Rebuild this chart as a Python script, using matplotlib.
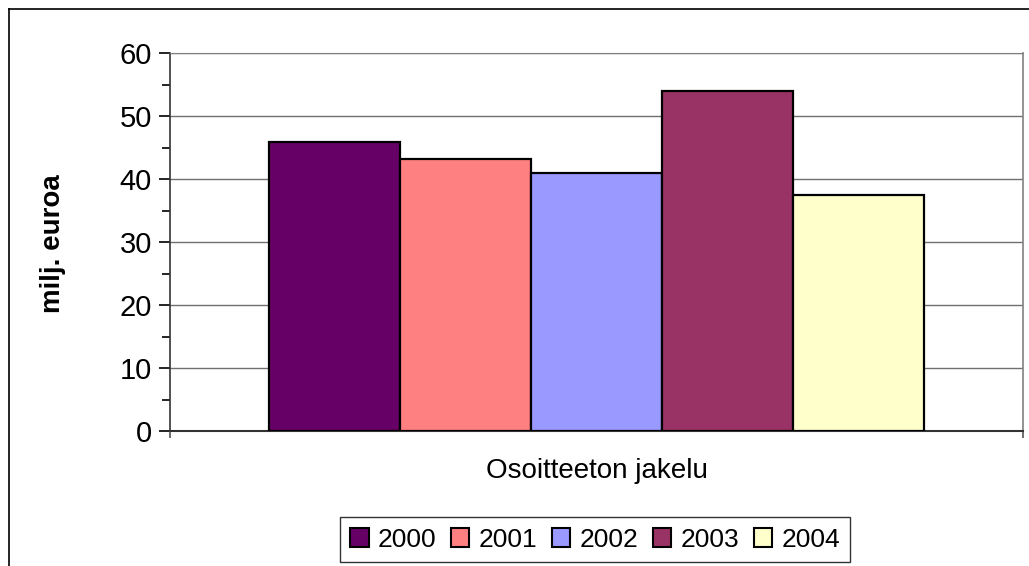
import numpy as np
import matplotlib.pyplot as plt
from matplotlib.lines import Line2D
from matplotlib.ticker import MultipleLocator

plt.rcParams['font.family'] = ['Liberation Sans', 'DejaVu Sans']

# data
years = ['2000', '2001', '2002', '2003', '2004']
values = [45.8, 43.1, 40.9, 54.0, 37.4]
colors = ['#660066', '#ff8080', '#9999ff', '#993366', '#ffffcc']
category = 'Osoitteeton jakelu'
ylabel = 'milj. euroa'

W, H = 1029, 566
fig = plt.figure(figsize=(W / 100, H / 100), dpi=100)
ax = fig.add_axes([170 / W, 1 - 431 / H, (1023 - 170) / W, (431 - 53) / H])

# bars in one group, gap width ~150 %
bw = 0.768 / len(years)
x0 = 0.5 - bw * len(years) / 2
for i, (yr, v, c) in enumerate(zip(years, values, colors)):
    ax.bar(x0 + bw * (i + 0.5), v, width=bw, color=c, edgecolor='black',
           linewidth=1.6, label=yr, zorder=3)

ax.set_xlim(0, 1)
ax.set_ylim(0, 60)
ax.yaxis.set_major_locator(MultipleLocator(10))
ax.yaxis.set_minor_locator(MultipleLocator(5))
ax.grid(axis='y', color='#707070', linewidth=1.0, zorder=0)
ax.tick_params(axis='y', which='major', length=8, width=1.2, labelsize=21, pad=5)
ax.tick_params(axis='y', which='minor', length=6, width=1.2)
ax.set_xticks([0, 1])
ax.set_xticklabels([])
ax.tick_params(axis='x', length=5, width=1.2, color='#555555')

ax.spines['top'].set_color('#808080')
ax.spines['right'].set_color('#808080')
ax.spines['right'].set_linewidth(1.2)
ax.spines['left'].set_color('#333333')
ax.spines['left'].set_linewidth(1.2)
ax.spines['bottom'].set_color('#333333')
ax.spines['bottom'].set_linewidth(1.5)

fig.text(53 / W, 1 - 244 / H, ylabel, fontsize=20, fontweight='bold',
         rotation=90, ha='center', va='center')
fig.text(597 / W, 1 - 471 / H, category, fontsize=20, ha='center', va='center')

leg = fig.legend(loc='upper center', bbox_to_anchor=(595 / W, 1 - 517 / H),
                 ncol=5, fontsize=19, frameon=True, fancybox=False,
                 edgecolor='black', handlelength=0.7, handleheight=0.7,
                 handletextpad=0.35, columnspacing=0.55, borderpad=0.4,
                 borderaxespad=0)
leg.get_frame().set_linewidth(1.0)
for h in leg.legend_handles:
    h.set_linewidth(1.5)

# outer chart border (top and left visible)
fig.add_artist(Line2D([9 / W, 1], [1 - 9 / H, 1 - 9 / H], color='black', linewidth=1.2))
fig.add_artist(Line2D([9 / W, 9 / W], [1 - 9 / H, 0], color='black', linewidth=1.2))

fig.savefig('out.png', dpi=100)
